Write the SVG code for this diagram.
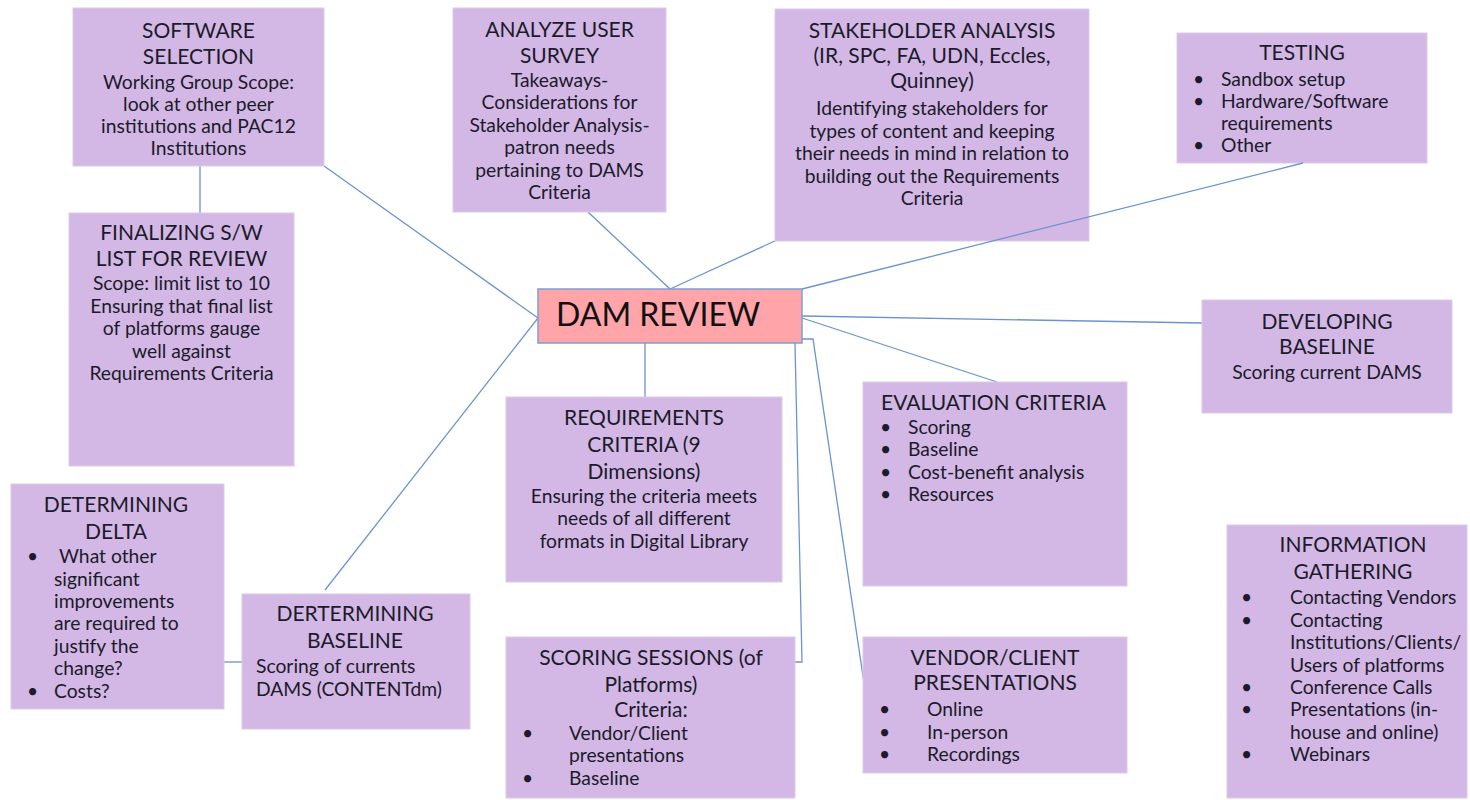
<svg xmlns="http://www.w3.org/2000/svg" width="1470" height="800" viewBox="0 0 1470 800">
<style>
.box{fill:#d3b7e4;stroke:#dccbea;stroke-width:1}
.dam{fill:#ffa4a9;stroke:#7f9fd2;stroke-width:1.5}
.t{font-family:Lato,"Liberation Sans",sans-serif;font-size:21px;fill:#1b1b2b}
.b{font-family:Lato,"Liberation Sans",sans-serif;font-size:19.3px;fill:#1b1b2b}
.c{text-anchor:middle}
.conn{fill:none;stroke:#6b93cd;stroke-width:1.3}
</style>
<rect width="1470" height="800" fill="#ffffff"/>
<g id="connectors">
<path class="conn" d="M200,166 V213"/>
<path class="conn" d="M324,166 L538,318"/>
<path class="conn" d="M538,318 L325,590"/>
<path class="conn" d="M588,212 L670,289"/>
<path class="conn" d="M777,240 L670,289"/>
<path class="conn" d="M645,343 V397"/>
<path class="conn" d="M795,343 L802,662 H782"/>
<path class="conn" d="M802,339 H813 L864,683"/>
<path class="conn" d="M802,316 L1202,323"/>
<path class="conn" d="M802,318 L997,382"/>
<path class="conn" d="M224,662 H242"/>
</g>
<g id="software-selection">
<rect class="box" x="73" y="8" width="251" height="158"/>
<text class="t c" x="198.5" y="38">SOFTWARE</text>
<text class="t c" x="198.5" y="64">SELECTION</text>
<text class="b c" x="198.5" y="89">Working Group Scope:</text>
<text class="b c" x="198.5" y="111">look at other peer</text>
<text class="b c" x="198.5" y="133">institutions and PAC12</text>
<text class="b c" x="198.5" y="155">Institutions</text>
</g>
<g id="analyze-user-survey">
<rect class="box" x="453" y="8" width="213" height="204"/>
<text class="t c" x="559.5" y="37">ANALYZE USER</text>
<text class="t c" x="559.5" y="63">SURVEY</text>
<text class="b c" x="559.5" y="87">Takeaways-</text>
<text class="b c" x="559.5" y="109">Considerations for</text>
<text class="b c" x="559.5" y="132">Stakeholder Analysis-</text>
<text class="b c" x="559.5" y="154">patron needs</text>
<text class="b c" x="559.5" y="177">pertaining to DAMS</text>
<text class="b c" x="559.5" y="199">Criteria</text>
</g>
<g id="stakeholder-analysis">
<rect class="box" x="775" y="9" width="314" height="232"/>
<text class="t c" x="932" y="38">STAKEHOLDER ANALYSIS</text>
<text class="t c" x="932" y="63">(IR, SPC, FA, UDN, Eccles,</text>
<text class="t c" x="932" y="88">Quinney)</text>
<text class="b c" x="932" y="115">Identifying stakeholders for</text>
<text class="b c" x="932" y="138">types of content and keeping</text>
<text class="b c" x="932" y="160">their needs in mind in relation to</text>
<text class="b c" x="932" y="183">building out the Requirements</text>
<text class="b c" x="932" y="205">Criteria</text>
</g>
<g id="testing">
<rect class="box" x="1177" y="33" width="250" height="130"/>
<text class="t c" x="1302" y="60">TESTING</text>
<text class="b" x="1193" y="86">•</text>
<text class="b" x="1221" y="86">Sandbox setup</text>
<text class="b" x="1193" y="108">•</text>
<text class="b" x="1221" y="108">Hardware/Software</text>
<text class="b" x="1221" y="130">requirements</text>
<text class="b" x="1193" y="152">•</text>
<text class="b" x="1221" y="152">Other</text>
</g>
<path class="conn" d="M802,289 L1303,163"/>
<g id="finalizing">
<rect class="box" x="69" y="213" width="225" height="253"/>
<text class="t c" x="181.5" y="240">FINALIZING S/W</text>
<text class="t c" x="181.5" y="266">LIST FOR REVIEW</text>
<text class="b c" x="181.5" y="290">Scope:  limit list to 10</text>
<text class="b c" x="181.5" y="313">Ensuring that final list</text>
<text class="b c" x="181.5" y="335">of platforms gauge</text>
<text class="b c" x="181.5" y="358">well against</text>
<text class="b c" x="181.5" y="380">Requirements  Criteria</text>
</g>
<g id="dam-review">
<rect class="dam" x="538" y="289" width="264" height="54"/>
<text x="556" y="326" font-family="Lato,'Liberation Sans',sans-serif" font-size="32" fill="#111">DAM REVIEW</text>
</g>
<g id="requirements-criteria">
<rect class="box" x="506" y="397" width="276" height="185"/>
<text class="t c" x="644" y="425">REQUIREMENTS</text>
<text class="t c" x="644" y="452">CRITERIA (9</text>
<text class="t c" x="644" y="479">Dimensions)</text>
<text class="b c" x="644" y="503">Ensuring the criteria meets</text>
<text class="b c" x="644" y="525">needs of all different</text>
<text class="b c" x="644" y="548">formats in Digital Library</text>
</g>
<g id="evaluation-criteria">
<rect class="box" x="863" y="382" width="264" height="204"/>
<text class="t" x="881" y="410">EVALUATION CRITERIA</text>
<text class="b" x="880" y="434">•</text>
<text class="b" x="908" y="434">Scoring</text>
<text class="b" x="880" y="456">•</text>
<text class="b" x="908" y="456">Baseline</text>
<text class="b" x="880" y="479">•</text>
<text class="b" x="908" y="479">Cost-benefit analysis</text>
<text class="b" x="880" y="501">•</text>
<text class="b" x="908" y="501">Resources</text>
</g>
<g id="developing-baseline">
<rect class="box" x="1202" y="300" width="250" height="113"/>
<text class="t c" x="1327" y="329">DEVELOPING</text>
<text class="t c" x="1327" y="354">BASELINE</text>
<text class="b c" x="1327" y="379">Scoring current DAMS</text>
</g>
<g id="information-gathering">
<rect class="box" x="1227" y="525" width="240" height="273"/>
<text class="t c" x="1353" y="552">INFORMATION</text>
<text class="t c" x="1353" y="579">GATHERING</text>
<text class="b" x="1241" y="604">•</text>
<text class="b" x="1290" y="604">Contacting Vendors</text>
<text class="b" x="1241" y="627">•</text>
<text class="b" x="1290" y="627">Contacting</text>
<text class="b" x="1290" y="649">Institutions/Clients/</text>
<text class="b" x="1290" y="672">Users of platforms</text>
<text class="b" x="1241" y="694">•</text>
<text class="b" x="1290" y="694">Conference  Calls</text>
<text class="b" x="1241" y="716">•</text>
<text class="b" x="1290" y="716">Presentations (in-</text>
<text class="b" x="1290" y="739">house and online)</text>
<text class="b" x="1241" y="761">•</text>
<text class="b" x="1290" y="761">Webinars</text>
</g>
<g id="vendor-client-presentations">
<rect class="box" x="863" y="637" width="264" height="136"/>
<text class="t c" x="995" y="665">VENDOR/CLIENT</text>
<text class="t c" x="995" y="690">PRESENTATIONS</text>
<text class="b" x="879" y="716">•</text>
<text class="b" x="927" y="716">Online</text>
<text class="b" x="879" y="739">•</text>
<text class="b" x="927" y="739">In-person</text>
<text class="b" x="879" y="761">•</text>
<text class="b" x="927" y="761">Recordings</text>
</g>
<g id="scoring-sessions">
<rect class="box" x="506" y="637" width="289" height="161"/>
<text class="t c" x="651" y="665">SCORING SESSIONS  (of</text>
<text class="t c" x="651" y="692">Platforms)</text>
<text class="t c" x="651" y="717">Criteria:</text>
<text class="b" x="522" y="740">•</text>
<text class="b" x="569" y="740">Vendor/Client</text>
<text class="b" x="569" y="762">presentations</text>
<text class="b" x="522" y="785">•</text>
<text class="b" x="569" y="785">Baseline</text>
</g>
<g id="determining-delta">
<rect class="box" x="11" y="484" width="213" height="225"/>
<text class="t c" x="116" y="512">DETERMINING</text>
<text class="t c" x="116" y="539">DELTA</text>
<text class="b" x="27" y="563">•</text>
<text class="b" x="59" y="563">What other</text>
<text class="b" x="54" y="586">significant</text>
<text class="b" x="54" y="608">improvements</text>
<text class="b" x="54" y="630">are required to</text>
<text class="b" x="54" y="653">justify the</text>
<text class="b" x="54" y="675">change?</text>
<text class="b" x="27" y="698">•</text>
<text class="b" x="54" y="698">Costs?</text>
</g>
<g id="determining-baseline">
<rect class="box" x="242" y="594" width="228" height="135"/>
<text class="t c" x="355" y="621">DERTERMINING</text>
<text class="t c" x="355" y="648">BASELINE</text>
<text class="b" x="256" y="673">Scoring of currents</text>
<text class="b" x="256" y="696">DAMS  (CONTENTdm)</text>
</g>
</svg>
